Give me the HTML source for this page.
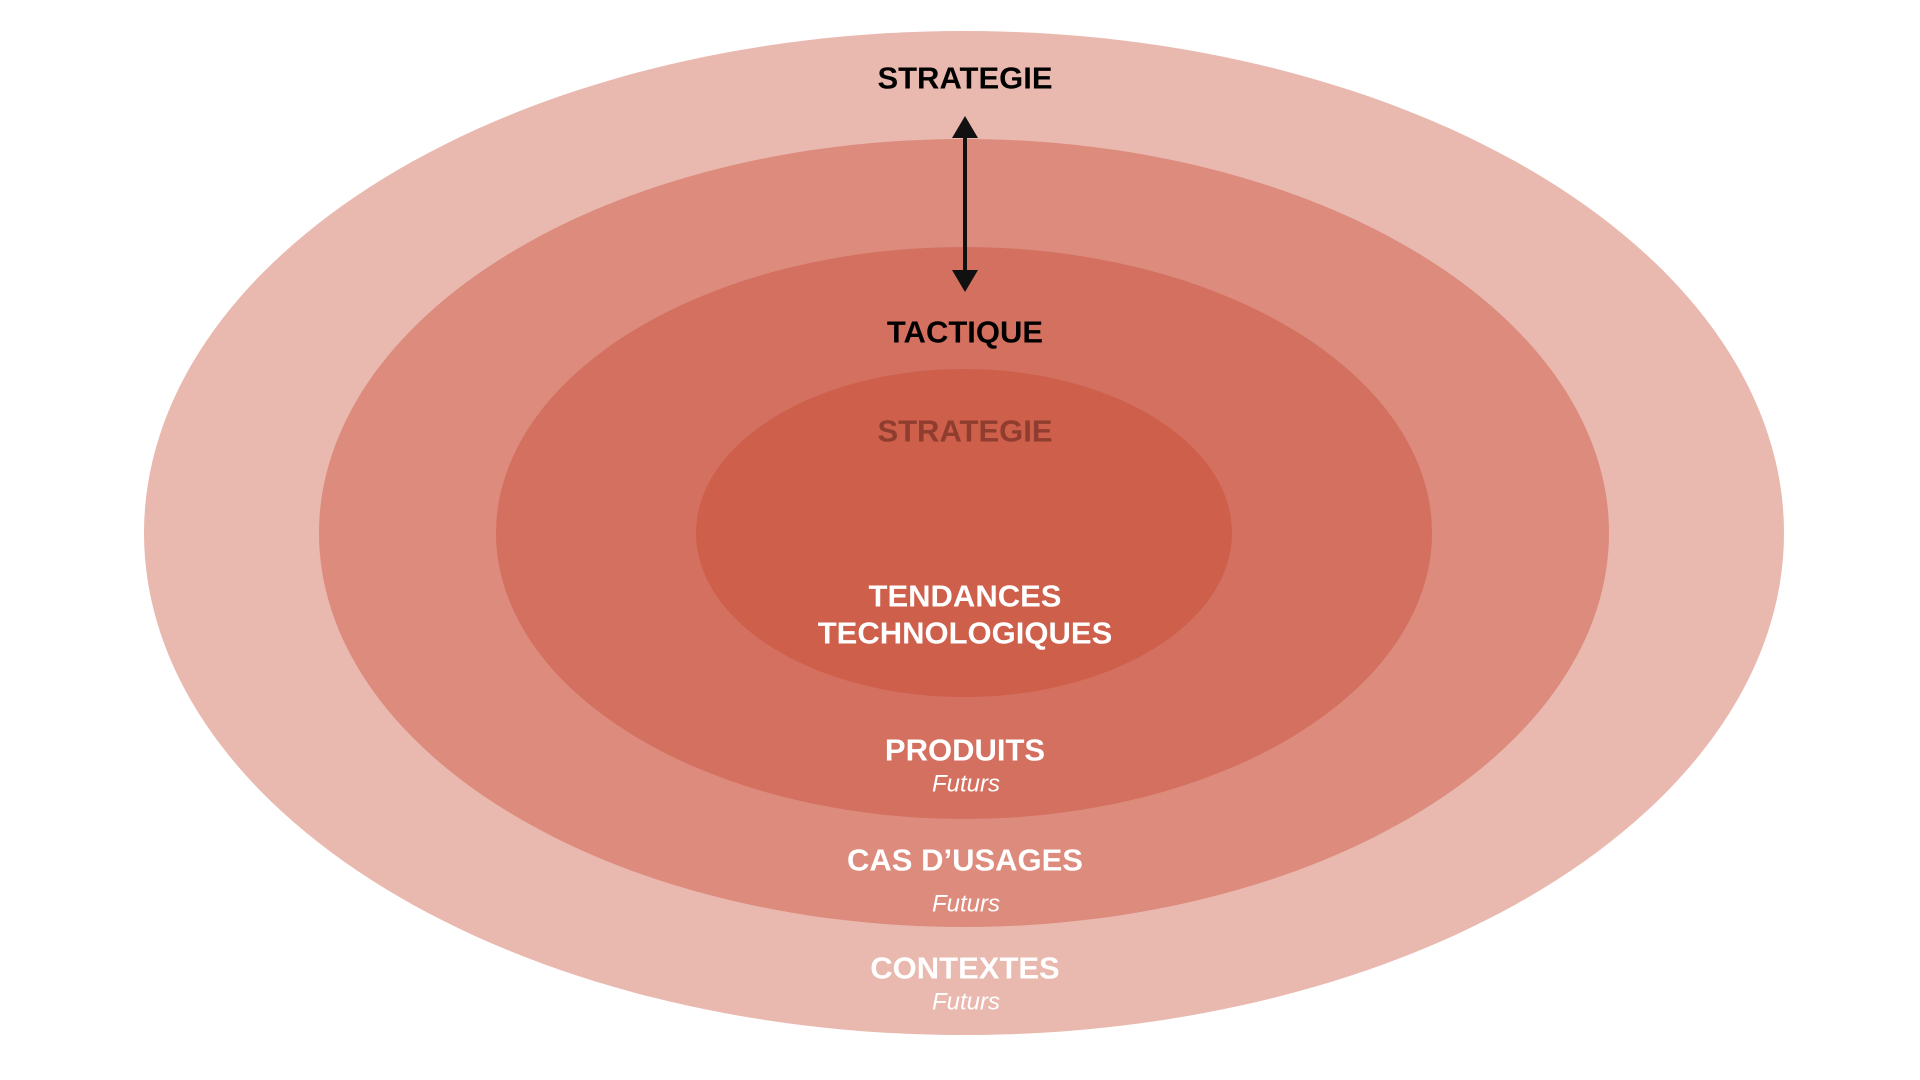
<!DOCTYPE html>
<html><head><meta charset="utf-8"><style>html,body{margin:0;padding:0;background:#fff}svg{display:block}</style></head>
<body>
<svg width="1920" height="1080" viewBox="0 0 1920 1080" xmlns="http://www.w3.org/2000/svg" font-family="Liberation Sans, Arial, sans-serif">
<ellipse cx="964" cy="533" rx="820" ry="502" fill="#e9b8ae"/>
<ellipse cx="964" cy="533" rx="645" ry="394" fill="#dc8b7c"/>
<ellipse cx="964" cy="533" rx="468" ry="286" fill="#d37060"/>
<ellipse cx="964" cy="533" rx="268" ry="164" fill="#cd5f4b"/>
<g font-weight="bold" font-size="31" text-anchor="middle" dominant-baseline="central">
<text x="965" y="78" fill="#000">STRATEGIE</text>
<text x="965" y="332" fill="#000">TACTIQUE</text>
<text x="965" y="431" fill="#8e3d2e">STRATEGIE</text>
<text x="965" y="596" fill="#fff">TENDANCES</text>
<text x="965" y="633" fill="#fff">TECHNOLOGIQUES</text>
<text x="965" y="750" fill="#fff">PRODUITS</text>
<text x="965" y="860" fill="#fff">CAS D’USAGES</text>
<text x="965" y="968" fill="#fff">CONTEXTES</text>
</g>
<g font-style="italic" font-size="24" text-anchor="middle" dominant-baseline="central" fill="#fff">
<text x="966" y="784">Futurs</text>
<text x="966" y="904">Futurs</text>
<text x="966" y="1002">Futurs</text>
</g>
<line x1="965" y1="128" x2="965" y2="278" stroke="#111" stroke-width="4"/>
<polygon points="965,116 952,138 978,138" fill="#111"/>
<polygon points="965,292 952,270 978,270" fill="#111"/>
</svg>
</body></html>
